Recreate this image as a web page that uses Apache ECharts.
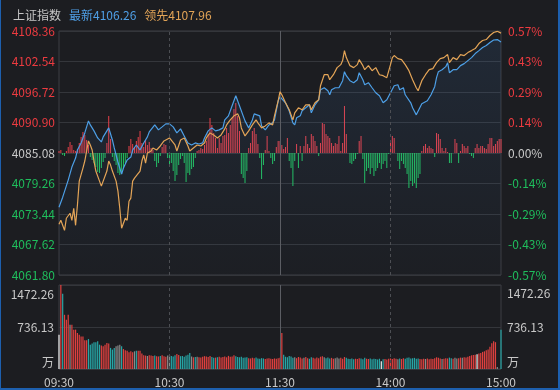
<!DOCTYPE html>
<html><head><meta charset="utf-8">
<script src="https://cdn.jsdelivr.net/npm/echarts@6/dist/echarts.min.js"></script>
<style>
html,body{margin:0;padding:0;background:#1c1d21;}
#c{position:absolute;left:0;top:0;width:560px;height:390px;}
#f{position:absolute;left:0;top:0;width:560px;height:390px;box-sizing:border-box;border-left:1px solid #1d5fae;border-right:2px solid #1d5fae;border-bottom:2px solid #1d5fae;pointer-events:none;}
</style></head><body>
<div id="c"></div><div id="f"></div>
<script>
const indexName = '上证指数';
const latestName = '最新';
const leadName = '领先';
const prevClose = 4085.08;
const priceTicks = ['4061.80','4067.62','4073.44','4079.26','4085.08','4090.90','4096.72','4102.54','4108.36'];
const pctTicks = ['-0.57%','-0.43%','-0.29%','-0.14%','0.00%','0.14%','0.29%','0.43%','0.57%'];
const volTicks = ['万','736.13','1472.26'];
const timeTicks = ['09:30','10:30','11:30','14:00','15:00'];
const timeTickMinutes = [0,60,120,180,240];

// [minute index, price]
const latestPts = [[0,4074.73],[2,4076.65],[3,4076.46],[5,4079.91],[7,4082.40],[9,4084.12],[10,4085.65],[12,4087.00],[14,4088.91],[16,4091.21],[17,4090.44],[19,4089.30],[21,4087.95],[23,4087.19],[24,4088.15],[26,4089.30],[27,4089.87],[29,4087.57],[30,4086.04],[32,4083.36],[34,4081.06],[35,4082.21],[37,4083.74],[39,4084.31],[40,4085.65],[42,4086.61],[44,4085.65],[46,4087.00],[48,4088.15],[49,4089.10],[52,4090.44],[54,4089.49],[56,4090.06],[58,4090.64],[60,4090.64],[62,4090.06],[64,4088.91],[66,4089.68],[68,4088.34],[70,4087.00],[72,4086.61],[74,4087.00],[76,4086.80],[78,4087.00],[79,4087.95],[81,4089.30],[83,4089.87],[85,4089.30],[87,4089.49],[89,4089.87],[90,4091.40],[92,4092.17],[94,4094.09],[96,4096.00],[97,4095.62],[98,4094.09],[100,4092.17],[101,4091.21],[103,4089.87],[105,4091.40],[106,4092.55],[109,4092.17],[110,4090.25],[112,4089.49],[114,4090.44],[116,4090.83],[117,4091.40],[119,4095.04],[120,4095.81],[121,4096.19],[123,4094.66],[125,4093.13],[127,4090.83],[128,4090.44],[129,4091.79],[131,4092.17],[132,4093.13],[134,4093.70],[136,4094.28],[137,4092.74],[139,4094.28],[141,4095.23],[142,4097.15],[144,4097.53],[146,4096.96],[147,4096.19],[148,4097.15],[150,4097.53],[152,4097.53],[154,4098.88],[155,4100.60],[156,4099.83],[158,4098.88],[160,4098.49],[162,4099.07],[163,4100.41],[165,4099.07],[166,4098.11],[168,4098.49],[170,4097.53],[172,4096.58],[174,4096.00],[176,4094.66],[178,4095.23],[180,4096.58],[182,4097.92],[184,4098.11],[185,4097.15],[187,4097.53],[188,4096.19],[191,4094.66],[192,4093.70],[194,4092.36],[195,4091.98],[197,4094.47],[198,4094.66],[200,4095.04],[202,4096.19],[204,4097.73],[205,4099.45],[206,4100.60],[208,4100.98],[210,4101.56],[211,4102.32],[212,4100.41],[214,4100.98],[216,4100.98],[218,4101.75],[220,4102.13],[222,4102.71],[224,4103.28],[226,4104.05],[228,4104.62],[230,4105.20],[232,4105.58],[234,4106.16],[236,4106.64],[238,4106.73],[240,4106.26]];

const leadPts = [[0,4071.50],[1,4072.24],[3,4070.33],[4,4072.63],[6,4073.58],[7,4072.24],[8,4074.54],[9,4071.28],[10,4075.12],[11,4079.72],[13,4082.21],[14,4083.55],[15,4085.46],[16,4087.38],[17,4086.61],[18,4085.65],[19,4083.55],[20,4081.63],[22,4079.72],[23,4078.76],[24,4078.95],[26,4081.63],[27,4083.55],[28,4082.78],[29,4081.63],[31,4079.72],[32,4077.80],[33,4074.54],[34,4070.71],[35,4070.33],[36,4072.63],[37,4072.24],[38,4075.88],[39,4076.46],[40,4079.72],[41,4080.29],[42,4080.67],[44,4081.63],[45,4083.55],[46,4084.70],[47,4083.16],[48,4085.08],[50,4085.46],[51,4086.04],[53,4085.65],[55,4086.42],[57,4087.38],[58,4087.00],[60,4087.95],[61,4087.57],[63,4086.61],[64,4085.46],[66,4087.57],[68,4087.95],[70,4086.42],[71,4085.46],[73,4086.04],[75,4086.61],[77,4086.42],[79,4087.00],[80,4087.95],[82,4088.91],[84,4088.53],[86,4087.95],[88,4088.53],[90,4089.68],[91,4090.44],[93,4091.40],[95,4092.17],[97,4092.55],[98,4091.79],[99,4089.87],[101,4088.34],[103,4089.30],[105,4090.44],[107,4091.40],[108,4090.83],[110,4089.87],[112,4090.25],[114,4090.83],[116,4090.44],[117,4092.17],[119,4095.04],[120,4096.77],[121,4096.19],[123,4094.66],[125,4093.32],[127,4091.40],[128,4092.74],[130,4093.70],[132,4093.32],[134,4094.28],[136,4094.28],[137,4093.32],[139,4094.66],[141,4095.23],[142,4097.92],[144,4100.02],[146,4100.02],[147,4099.07],[149,4100.02],[151,4101.37],[153,4101.94],[154,4102.71],[155,4104.62],[156,4103.28],[158,4101.75],[160,4101.37],[162,4101.94],[163,4102.90],[165,4101.75],[166,4100.98],[168,4101.75],[170,4100.79],[172,4101.37],[174,4100.02],[176,4099.83],[178,4099.45],[180,4101.94],[181,4103.28],[182,4103.67],[184,4103.09],[186,4102.90],[188,4101.94],[190,4100.79],[192,4099.07],[194,4097.53],[195,4096.96],[197,4098.88],[199,4100.02],[201,4100.98],[203,4101.17],[205,4102.32],[207,4103.09],[209,4103.28],[211,4103.86],[212,4102.32],[214,4103.28],[216,4102.90],[218,4103.86],[220,4103.67],[222,4104.24],[224,4104.62],[226,4105.01],[228,4105.96],[230,4106.54],[232,4106.73],[234,4107.50],[236,4108.07],[238,4108.30],[240,4107.96]];

// red/green strength bars, one per minute
const diffBars = [
2,3,-2,-3,2,6,11,8,3,2,
4,10,16,21,18,13,8,-4,-7,-10,
-14,-19,-20,-15,-9,-5,10,37,14,-4,
-8,-12,-20,-22,-21,-15,-10,-5,7,14,
9,6,12,16,22,10,6,13,8,11,
5,3,-8,-14,-10,-3,6,9,8,-5,
-12,-10,-18,-28,-22,-12,-6,-3,-10,-29,
-20,-22,-16,-14,-5,2,3,5,4,8,
12,19,35,28,20,15,5,15,10,17,
18,25,20,28,35,44,50,37,22,-21,
-25,-30,-18,5,10,22,25,19,9,-5,
-26,-12,3,17,2,-5,-11,-8,6,12,
12,8,4,6,15,-8,-15,-33,-8,9,
-15,7,-8,7,17,9,5,19,17,12,
7,-3,10,30,29,19,17,15,10,7,
10,9,17,2,10,47,19,0,-10,-11,
-8,-6,-1,12,17,-6,-30,-18,-15,-21,
-15,-23,-18,-15,-10,-16,-11,-8,-15,-1,
10,17,15,0,-8,-16,-8,-11,-15,-21,
-35,-28,-33,-30,-35,-25,-21,2,7,9,
5,7,5,4,-4,20,19,14,5,2,
5,1,-10,-10,0,14,10,-10,2,9,
7,5,7,-1,-3,-5,5,9,5,7,
7,5,4,9,15,15,7,9,12,14,
14];

// volume per minute (万)
const volumes = [
602,1472,1320,950,865,952,777,777,690,690,
631,600,570,570,503,503,525,427,445,467,
467,485,427,410,400,427,456,445,370,340,
370,400,410,427,400,350,330,320,295,310,
295,310,320,320,320,270,240,235,230,240,
235,230,235,225,220,230,240,225,215,235,
245,230,220,240,265,245,225,230,215,235,
250,280,220,205,210,215,205,200,215,225,
220,210,230,210,195,200,205,215,200,210,
220,205,230,215,220,240,225,210,205,215,
195,200,205,190,185,195,190,200,185,180,
190,185,175,185,190,180,175,185,180,190,
195,631,251,215,205,230,220,195,205,190,
210,200,185,195,210,190,180,205,195,185,
200,190,215,225,205,190,200,185,195,180,
190,200,185,195,180,210,195,180,175,185,
170,180,175,190,185,170,195,180,175,185,
170,180,175,165,180,135,170,175,165,180,
185,175,190,180,170,185,175,190,180,195,
200,185,190,195,180,185,175,170,180,175,
185,170,180,175,190,205,195,185,175,180,
190,185,200,190,180,195,185,190,200,195,
205,200,215,230,240,245,250,260,270,280,
300,310,330,340,390,450,485,470,35,0,
690];
// u = up, d = down, f = flat, w = auction/neutral
const volDir =
'wuduuufuuu'+'uuuuuudddd'+'ddduuuuudd'+'dfffduuuuu'+'ufduuuuufu'+'uuduuduuuf'+
'fddduudddd'+'ddfudfuuuu'+'uuudduduuu'+'uuuuuudddd'+'ddduuuuddd'+'dduuuuuuuu'+'u'+
'uddddddfuu'+'uufuudduuu'+'uuufddduuf'+'ffuuuddddd'+'uuuddduudd'+'ddddwduuuu'+
'uuufduuddd'+'ddddduuufu'+'uuuuuuufuu'+'udduffuufu'+'uuuuuuwuuu'+'uuuuuuuffd';

const FONT = '"Noto Sans CJK SC", "Noto Sans", sans-serif';
const C_UP = '#ec3b40', C_DN = '#1fbd5c', C_FLAT = '#c8c8c8';
const volColor = {u:'#e0403f', d:'#27a6a6', f:'#8a8a8a', w:'#f2f2f2'};
const GRID_LINE = '#34363b', BORDER = '#3d3f44';

const priceStep = (parseFloat(priceTicks[8]) - prevClose) / 4;
const pMin = -4 * priceStep, pMax = 4 * priceStep;
const volStep = parseFloat(volTicks[1]);
const volMax = 2 * volStep;
const barLim = 122;

function tickIdx(v){ return Math.round(v / priceStep) + 4; }
function signColor(v){ v = parseFloat(v); return v > 1e-6 ? C_UP : (v < -1e-6 ? C_DN : C_FLAT); }

const latest = latestPts[latestPts.length-1][1];
const lead = leadPts[leadPts.length-1][1];

const vLines = timeTickMinutes.slice(1, -1).map((m, i) => ({
  xAxis: m,
  lineStyle: m === 120 ? {type:'solid', color:'#5b5d63', width:1} : {type:[3,3], color:'#4c4e53', width:1}
}));
const markLineCfg = {symbol:'none', silent:true, label:{show:false}, animation:false, data: vLines};

const chart = echarts.init(document.getElementById('c'), null, {renderer:'canvas'});
chart.setOption({
  backgroundColor: '#1c1d21',
  animation: false,
  textStyle: {fontFamily: FONT},
  title: {
    left: 8, top: 4,
    text: '{a|' + indexName + '}{b|' + latestName + latest.toFixed(2) + '}{c|' + leadName + lead.toFixed(2) + '}',
    textStyle: {
      fontSize: 12, fontFamily: FONT, fontWeight: 'normal',
      rich: {
        a: {color:'#c6c6c6', fontSize:12, fontFamily:FONT, fontWeight:'normal', padding:[0,8,0,0]},
        b: {color:'#4f9fe6', fontSize:12, fontFamily:FONT, fontWeight:'normal', padding:[0,8,0,0]},
        c: {color:'#e2a457', fontSize:12, fontFamily:FONT, fontWeight:'normal'}
      }
    }
  },
  grid: [
    {left:59, right:59, top:31, height:244, show:true, borderColor:BORDER, borderWidth:1, backgroundColor:'transparent', outerBoundsMode:'none'},
    {left:59, right:59, top:285, height:84, show:true, borderColor:BORDER, borderWidth:1, backgroundColor:'transparent', outerBoundsMode:'none'}
  ],
  xAxis: [
    {type:'value', gridIndex:0, min:0, max:240, interval:60, axisLine:{show:false}, axisTick:{show:false}, axisLabel:{show:false}, splitLine:{show:false}},
    {type:'value', gridIndex:1, min:0, max:240, interval:60, axisLine:{show:false}, axisTick:{show:false}, splitLine:{show:false},
      axisLabel:{show:true, margin:7, color:'#c8c8c8', fontSize:12, fontFamily:FONT,
        formatter: v => timeTicks[timeTickMinutes.indexOf(Math.round(v))] || ''}}
  ],
  yAxis: [
    {type:'value', gridIndex:0, position:'left', min:pMin, max:pMax, interval:priceStep,
      axisLine:{show:false}, axisTick:{show:false},
      splitLine:{show:true, lineStyle:{color:GRID_LINE, width:1}},
      axisLabel:{margin:4, fontSize:12, fontFamily:FONT, color: v => signColor(v),
        formatter: v => priceTicks[tickIdx(v)] || ''}},
    {type:'value', gridIndex:0, position:'right', min:pMin, max:pMax, interval:priceStep,
      axisLine:{show:false}, axisTick:{show:false}, splitLine:{show:false},
      axisLabel:{margin:7, fontSize:12, fontFamily:FONT, color: v => signColor(v),
        formatter: v => pctTicks[tickIdx(v)] || ''}},
    {type:'value', gridIndex:0, show:false, min:-barLim, max:barLim, splitLine:{show:false}},
    {type:'value', gridIndex:1, position:'left', min:0, max:volMax, interval:volStep,
      axisLine:{show:false}, axisTick:{show:false},
      splitLine:{show:true, lineStyle:{color:GRID_LINE, width:1}},
      axisLabel:{margin:5, fontSize:12, fontFamily:FONT, color:'#c8c8c8',
        formatter: v => { const i = Math.round(v / volStep); return i === 2 ? '{t|' + volTicks[2] + '}' : (i === 0 ? '{b|' + volTicks[0] + '}' : volTicks[1]); },
        rich:{t:{padding:[18,0,0,0], fontSize:12, color:'#c8c8c8', fontFamily:FONT}, b:{padding:[0,0,14,0], fontSize:12, color:'#c8c8c8', fontFamily:FONT}}}},
    {type:'value', gridIndex:1, position:'right', min:0, max:volMax, interval:volStep,
      axisLine:{show:false}, axisTick:{show:false}, splitLine:{show:false},
      axisLabel:{margin:6, fontSize:12, fontFamily:FONT, color:'#c8c8c8',
        formatter: v => { const i = Math.round(v / volStep); return i === 2 ? '{t|' + volTicks[2] + '}' : (i === 0 ? '{b|' + volTicks[0] + '}' : volTicks[1]); },
        rich:{t:{padding:[16,0,0,0], fontSize:12, color:'#c8c8c8', fontFamily:FONT}, b:{padding:[0,0,14,0], fontSize:12, color:'#c8c8c8', fontFamily:FONT}}}}
  ],
  series: [
    {type:'bar', name:'diff', xAxisIndex:0, yAxisIndex:2, barWidth:1, z:2,
      data: diffBars.map((v, i) => [i, v]).filter(d => d[1] !== 0),
      itemStyle:{color: p => p.value[1] >= 0 ? '#e8404a' : '#22c25f'},
      markLine: markLineCfg},
    {type:'line', name:latestName, xAxisIndex:0, yAxisIndex:0, z:4, symbol:'none', smooth:false,
      data: latestPts.map(d => [d[0], d[1] - prevClose]),
      lineStyle:{color:'#4d9fe6', width:1.2},
      areaStyle:{origin:'start', color:new echarts.graphic.LinearGradient(0,0,0,1,[{offset:0,color:'rgba(70,140,220,0.16)'},{offset:1,color:'rgba(70,140,220,0.02)'}])}},
    {type:'line', name:leadName, xAxisIndex:0, yAxisIndex:0, z:5, symbol:'none', smooth:false,
      data: leadPts.map(d => [d[0], d[1] - prevClose]),
      lineStyle:{color:'#e3a457', width:1.2}},
    {type:'bar', name:'vol', xAxisIndex:1, yAxisIndex:3, barWidth:1.2, z:2,
      data: volumes.map((v, i) => ({value:[i, v], itemStyle:{color: volColor[volDir[i]] || '#8a8a8a'}})),
      markLine: markLineCfg}
  ]
});
</script>
</body></html>
